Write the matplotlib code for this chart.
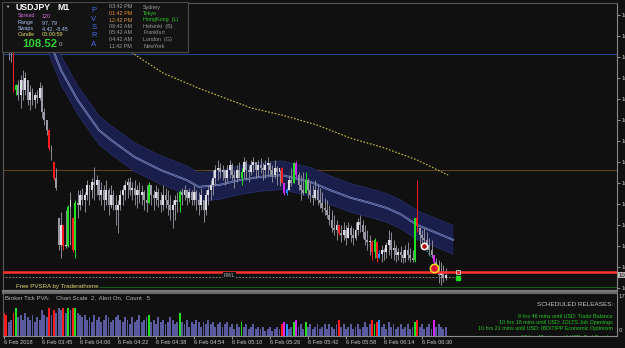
import numpy as np
import matplotlib.pyplot as plt
from matplotlib.patches import Rectangle

plt.rcParams['font.family'] = ['Liberation Sans', 'DejaVu Sans']

# USDJPY M1 bars, prices in points above 108.000
hi_pts = [1080, 1092, 1085, 1080, 1068, 975, 985, 996, 1008, 1004,
          985, 973, 965, 956, 961, 980, 973, 918, 889, 865,
          830, 789, 775, 656, 670, 639, 675, 687, 718, 656,
          699, 723, 723, 727, 718, 746, 735, 751, 777, 758,
          746, 742, 735, 746, 727, 735, 723, 711, 699, 723,
          735, 746, 751, 754, 742, 746, 735, 742, 735, 723,
          735, 742, 735, 723, 735, 727, 718, 735, 727, 723,
          711, 699, 711, 718, 723, 727, 735, 723, 727, 723,
          735, 723, 718, 727, 699, 723, 735, 746, 770, 782,
          794, 787, 782, 770, 782, 794, 787, 770, 782, 789,
          775, 801, 794, 782, 794, 801, 789, 794, 799, 787,
          794, 801, 789, 782, 794, 780, 770, 777, 739, 727,
          758, 775, 789, 792, 765, 758, 765, 765, 751, 742,
          735, 746, 735, 727, 718, 704, 699, 687, 675, 663,
          651, 639, 639, 646, 639, 646, 639, 632, 646, 656,
          663, 651, 639, 627, 616, 604, 608, 599, 580, 592,
          585, 599, 627, 623, 604, 592, 585, 589, 580, 592,
          599, 585, 580, 656, 746, 632, 627, 632, 623, 608,
          604, 568, 561, 556, 551, 544, 537]
lo_pts = [1054, 1056, 1032, 1027, 956, 949, 937, 918, 937, 949,
          925, 913, 925, 918, 930, 937, 894, 877, 854, 818,
          794, 746, 723, 580, 561, 580, 585, 587, 592, 575,
          561, 656, 675, 687, 670, 699, 687, 704, 699, 711,
          699, 687, 675, 687, 663, 680, 675, 639, 620, 675,
          687, 699, 704, 711, 699, 687, 680, 692, 687, 675,
          670, 692, 687, 675, 687, 682, 670, 675, 680, 663,
          651, 632, 651, 670, 670, 687, 699, 687, 694, 687,
          687, 675, 663, 675, 646, 663, 687, 699, 711, 735,
          746, 751, 746, 735, 742, 751, 746, 727, 742, 751,
          735, 751, 746, 742, 758, 765, 751, 756, 763, 746,
          751, 758, 756, 742, 751, 735, 732, 739, 711, 711,
          723, 732, 739, 751, 723, 699, 711, 716, 704, 694,
          687, 699, 687, 680, 670, 663, 656, 639, 623, 616,
          604, 616, 599, 604, 592, 608, 599, 592, 604, 616,
          623, 608, 592, 580, 568, 556, 561, 551, 561, 551,
          556, 561, 568, 561, 556, 551, 556, 551, 549, 551,
          556, 551, 551, 551, 623, 592, 596, 592, 580, 568,
          561, 544, 527, 501, 496, 504, 508]
close_pts = [1064, 1068, 1056, 1061, 961, 973, 949, 985, 961, 989,
             937, 956, 937, 949, 942, 965, 908, 889, 865, 823,
             818, 751, 727, 592, 639, 589, 589, 682, 699, 580,
             692, 687, 711, 699, 711, 735, 723, 742, 735, 746,
             711, 723, 699, 723, 687, 711, 687, 675, 687, 711,
             723, 735, 742, 723, 727, 711, 723, 711, 718, 699,
             692, 735, 711, 704, 718, 699, 687, 711, 699, 687,
             675, 687, 699, 694, 718, 711, 723, 704, 718, 699,
             718, 699, 687, 711, 675, 711, 723, 735, 751, 770,
             775, 765, 770, 751, 770, 782, 758, 751, 770, 751,
             765, 789, 770, 765, 782, 789, 770, 782, 775, 770,
             782, 787, 770, 758, 775, 765, 775, 739, 716, 723,
             746, 739, 787, 758, 735, 723, 716, 746, 723, 711,
             704, 723, 699, 692, 680, 675, 663, 651, 632, 627,
             639, 620, 616, 627, 608, 632, 616, 608, 627, 646,
             639, 623, 604, 599, 599, 575, 604, 561, 570, 580,
             575, 592, 604, 580, 585, 568, 575, 568, 561, 580,
             568, 561, 556, 656, 637, 616, 608, 604, 592, 580,
             568, 551, 537, 520, 527, 513, 520]
volume = [10, 9, 6, 7, 10, 12, 8, 9, 7, 10,
          8, 7, 9, 6, 8, 7, 11, 9, 8, 12,
          9, 11, 10, 12, 11, 12, 10, 12, 11, 12,
          12, 10, 9, 8, 9, 7, 8, 6, 9, 7,
          8, 6, 7, 9, 8, 6, 7, 8, 9, 7,
          6, 8, 7, 5, 8, 6, 7, 9, 6, 7,
          8, 9, 6, 7, 5, 8, 6, 7, 5, 6,
          8, 7, 5, 6, 10, 6, 5, 7, 4, 6,
          5, 7, 6, 4, 6, 5, 7, 5, 6, 4,
          5, 6, 4, 5, 6, 4, 5, 3, 5, 4,
          6, 4, 5, 3, 4, 5, 3, 4, 3, 4,
          2, 3, 4, 2, 3, 4, 3, 5, 6, 5,
          3, 4, 6, 7, 4, 5, 3, 6, 4, 5,
          3, 4, 5, 3, 4, 5, 3, 5, 4, 3,
          5, 7, 4, 5, 3, 4, 5, 3, 4, 5,
          3, 4, 6, 4, 5, 7, 5, 6, 7, 4,
          5, 3, 6, 4, 5, 3, 4, 5, 3, 4,
          5, 3, 4, 6, 7, 4, 5, 3, 4, 5,
          3, 7, 4, 5, 4, 3, 4]
# PVSRA coloured bars (r climax bear, g climax bull, m rising, b low)
pva_marks = {0: 'r', 1: 'r', 4: 'r', 5: 'g', 19: 'r', 21: 'r', 25: 'r', 27: 'g',
             29: 'r', 30: 'g', 61: 'g', 74: 'g', 100: 'g', 117: 'r', 118: 'm',
             119: 'b', 122: 'g', 123: 'm', 127: 'g', 141: 'r', 155: 'r', 156: 'g',
             157: 'r', 158: 'b', 173: 'g', 174: 'r', 181: 'm'}

# moving average band (bar, points) and the dotted slow average
band_bar = [17, 19, 24, 31, 40, 45, 55, 66, 77, 82, 91, 99, 108, 117,
            129, 137, 146, 154, 161, 167, 174, 181, 189]
band_pts = [1108, 1080, 1008, 937, 865, 842, 801, 770, 746, 730, 735, 746,
            754, 758, 742, 723, 704, 692, 680, 665, 639, 623, 604]
slow_bar = [49, 54, 67, 82, 104, 117, 132, 146, 160, 174, 187]
slow_pts = [1068, 1049, 1001, 965, 918, 901, 877, 846, 823, 794, 758]

# horizontal levels
blue_lvl, brown_lvl, red_lvl, rwl_lvl, green_lvl = 1046, 770, 527, 515, 492
bid = 108.520
price_ticks = [109.14, 109.09, 109.04, 108.99, 108.94, 108.89, 108.84,
               108.79, 108.74, 108.69, 108.64, 108.59, 108.54, 108.49]
time_labels = ['6 Feb 2018', '6 Feb 03:45', '6 Feb 04:06', '6 Feb 04:22',
               '6 Feb 04:38', '6 Feb 04:54', '6 Feb 05:10', '6 Feb 05:26',
               '6 Feb 05:42', '6 Feb 05:58', '6 Feb 06:14', '6 Feb 06:30']

W, H = 625, 348
BG = '#101010'


def px(p):
    return 108 + np.asarray(p) / 1000.0


def box(x0, y0, x1, y1):
    return [x0 / W, 1 - y1 / H, (x1 - x0) / W, (y1 - y0) / H]


def ftext(x, y, s, **kw):
    kw.setdefault('va', 'center')
    kw.setdefault('zorder', 12)
    return fig.text(x / W, 1 - y / H, s, **kw)


fig = plt.figure(figsize=(W / 100, H / 100), dpi=100, facecolor=BG)
ax = fig.add_axes(box(3, 3, 617, 291), facecolor=BG)
vax = fig.add_axes(box(3, 293, 617, 336), facecolor=BG)

n = len(close_pts)
x = np.arange(n)
hi, lo, cl = px(hi_pts), px(lo_pts), px(close_pts)
op = np.clip(np.r_[cl[0], cl[:-1]], lo, hi)
kind = ['n'] * n
for i, k in pva_marks.items():
    kind[i] = k
pva_col = {'r': '#ff1c1c', 'g': '#22e022', 'm': '#d426f0', 'b': '#2a8cff'}
wick_c = [pva_col.get(k, '#8a8a96') for k in kind]
body_c = [pva_col[k] if k in pva_col else ('#dcdce4' if c >= o else '#9a9aa6')
          for k, o, c in zip(kind, op, cl)]

# band
bx = np.array(band_bar)
bm = px(band_pts)
half = 0.034
ax.fill_between(bx, bm - half, bm + half, color='#1a1e4a', lw=0, zorder=2)
ax.plot(bx, bm + half, color='#262d68', lw=0.6, zorder=2)
ax.plot(bx, bm - half, color='#262d68', lw=0.6, zorder=2)
ax.plot(bx, bm, color='#8494c8', lw=1.4, zorder=3)
ax.plot(bx, bm, color='#222a60', lw=0.45, zorder=3)

ax.plot(slow_bar, px(slow_pts), color='#cfc43c', lw=0.8, ls=(0, (1.5, 1.5)), zorder=3)

ax.axhline(px(blue_lvl), color='#23448a', lw=0.8, zorder=1)
ax.axhline(px(brown_lvl), color='#5c4320', lw=0.8, zorder=1)
ax.axhline(px(red_lvl), color='#ff3030', lw=1.8, zorder=6)
ax.hlines(px(rwl_lvl), -1, 191, color='#9a9a9a', lw=0.6, ls=(0, (2, 2)), zorder=1)
ax.hlines(px(green_lvl), 40, 260, color='#1c5a1c', lw=0.8, zorder=1)

# candles
ax.vlines(x, lo, hi, colors=wick_c, lw=0.7, zorder=4)
ax.bar(x, np.maximum(np.abs(cl - op), 0.0015), bottom=np.minimum(op, cl),
       width=0.8, color=body_c, lw=0, zorder=5)

# signal markers
ax.plot([178, 179, 180], px([577, 570, 563]), ls=':', color='#30c0e0', lw=0.8, zorder=6)
ax.plot(177, px(589), 'o', ms=4.5, mfc='#b01010', mec='white', mew=1.1, zorder=7)
ax.plot(181, px(537), 'o', ms=6, mfc='#e0103a', mec='#f0e020', mew=1.1, zorder=7)
ax.plot(191, px(527), 's', ms=2.3, mfc='none', mec='#d0d0d0', mew=0.6, zorder=7)
ax.plot(191, px(513), 's', ms=2.3, mfc='#20e020', mec='#20e020', zorder=7)

ax.set_xlim(-0.42, 258.1)
ax.set_ylim(108.482, 109.168)
ax.yaxis.tick_right()
ax.set_yticks(price_ticks)
ax.set_yticklabels([f'{p:.3f}' for p in price_ticks])
ax.tick_params(axis='y', colors='#c8c8c8', labelsize=4.3, length=2, width=0.5, pad=1)
ax.tick_params(axis='x', bottom=False, labelbottom=False)
for s in ('left', 'top'):
    ax.spines[s].set_color('#5a5a5a')
    ax.spines[s].set_linewidth(0.8)
ax.spines['right'].set_color('#8a8a8a')
ax.spines['right'].set_linewidth(0.8)
ax.spines['bottom'].set_color('#7a7a7a')
ax.spines['bottom'].set_linewidth(1.6)

ax.text(1.003, bid, '108.52', transform=ax.get_yaxis_transform(), fontsize=4.3,
        color='#101010', va='center', ha='left', zorder=10, clip_on=False,
        bbox=dict(boxstyle='square,pad=0.15', fc='#b8b8b8', ec='none'))
ax.text(5, px(493), 'Free PVSRA by Traderathome', color='#e0d870', fontsize=4.4,
        va='center', ha='left', zorder=8)
ax.text(95, px(rwl_lvl) + 0.004, 'RWL', color='#b0b0b0', fontsize=3.8, va='center',
        ha='center', zorder=8, bbox=dict(boxstyle='square,pad=0.1', fc=BG, ec='none'))

# volume window
vol_c = [pva_col.get(k, '#5a5a9e') for k in kind]
vax.bar(x, volume, width=0.75, color=vol_c, lw=0)
vax.set_xlim(-0.42, 258.1)
vax.set_ylim(0, 18.3)
vax.set_yticks([])
vax.set_xticks(range(0, 177, 16))
vax.set_xticklabels(time_labels, ha='left')
vax.tick_params(axis='x', colors='#c8c8c8', labelsize=4.1, length=2, width=0.5, pad=1.2)
vax.spines['top'].set_color('#7a7a7a')
vax.spines['top'].set_linewidth(1.2)
vax.spines['left'].set_color('#5a5a5a')
for s in ('right', 'bottom'):
    vax.spines[s].set_color('#8a8a8a')
    vax.spines[s].set_linewidth(0.8)

ftext(5, 298, 'Broker Tick PVA:    Chart Scale  2,  Alert On,  Count   5',
      color='#b4b4b4', fontsize=4.3)
ftext(619, 296, '17', color='#c8c8c8', fontsize=4.3)
ftext(619, 330, '0', color='#c8c8c8', fontsize=4.3)
ftext(613, 304, 'SCHEDULED RELEASES:', color='#c4c4c4', fontsize=4.6, ha='right')
releases = ['8 hrs 46 mins until USD: Trade Balance',
            '10 hrs 18 mins until USD: JOLTS Job Openings',
            '10 hrs 21 mins until USD: IBD/TIPP Economic Optimism',
            '13 hrs 48 mins until USD: Fed Speaks']
for k, r in enumerate(releases):
    t = ftext(613, 316 + 6.2 * k + (2.5 if k == 3 else 0), r, color='#22c822',
              fontsize=3.9, ha='right')
    t.set_clip_on(True)
    t.set_clip_box(vax.bbox)

# info panel
fig.add_artist(Rectangle((2 / W, 1 - 52 / H), 186 / W, 50 / H, transform=fig.transFigure,
                         fc='#131313', ec='#4a4a4a', lw=0.8, zorder=10))
ftext(5, 7, '▼', color='#d0d0d0', fontsize=3)
ftext(15, 8, 'USDJPY', color='white', fontsize=6.3, fontweight='bold')
ftext(57, 8, 'M1', color='white', fontsize=6.3, fontweight='bold')
info = [('Spread', '120', '#d070d8'), ('Range', '97, 79', '#a8c4f4'),
        ('Swaps', '4.42, -8.45', '#a8c4f4'), ('Candle', '00:00:59', '#e8e060')]
for k, (lab, val, c) in enumerate(info):
    ftext(18, 16 + 6.3 * k, lab, color=c, fontsize=3.9)
    ftext(42, 16 + 6.3 * k, val, color=c, fontsize=3.9)
ftext(22, 44, '108.52', color='#30d030', fontsize=8.2, fontweight='bold')
ftext(59, 45, '0', color='#c0c0c0', fontsize=4.5)
for k, ch in enumerate('PVSRA'):
    ftext(94, 11 + 8.3 * k, ch, color='#4a6ae8', fontsize=5.5, ha='center')
clocks = ['03:42 PM', '01:42 PM', '12:42 PM', '08:42 AM', '05:42 AM', '04:42 AM', '11:42 PM']
clock_c = ['#a8a8a8', '#e8902c', '#d89040', '#9a9a9a', '#9a9a9a', '#9a9a9a', '#9a9a9a']
cities = ['Sydney', 'Tokyo', 'HongKong  (L)', 'Helsinki  (B)', 'Frankfurt', 'London  (G)', 'NewYork']
city_c = ['#a0a0a0', '#2ec82e', '#2ec82e', '#9a9a9a', '#9a9a9a', '#9a9a9a', '#9a9a9a']
for k in range(7):
    ftext(109, 7 + 6.5 * k, clocks[k], color=clock_c[k], fontsize=3.9)
    ftext(143, 7 + 6.5 * k, cities[k], color=city_c[k], fontsize=3.9)

fig.savefig('out.png', dpi=100, facecolor=BG)
